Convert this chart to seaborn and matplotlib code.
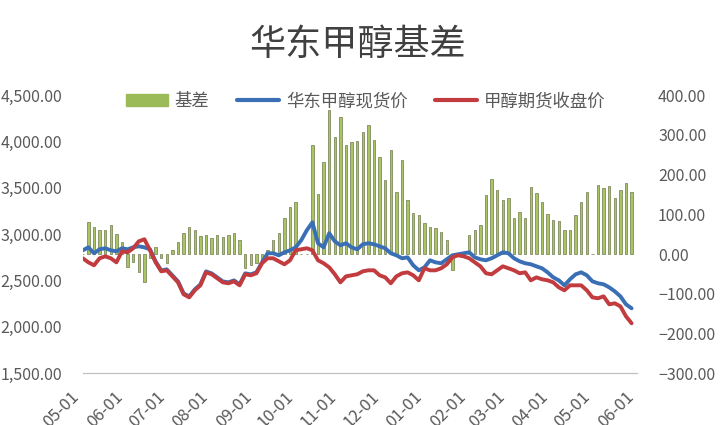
import matplotlib
matplotlib.use("Agg")
import pandas as pd
import matplotlib.pyplot as plt
import seaborn as sns
from matplotlib.patches import Patch
from matplotlib.lines import Line2D
from matplotlib.ticker import StrMethodFormatter

# readings every 4 days from 05-01
START = "2014-05-01"

futures = [
    2740, 2696, 2664, 2740, 2761, 2740, 2696, 2815, 2804, 2848,
    2923, 2945, 2826, 2696, 2599, 2610, 2545, 2480, 2351, 2318,
    2394, 2448, 2588, 2567, 2524, 2480, 2470, 2491, 2448, 2567,
    2556, 2578, 2686, 2740, 2740, 2707, 2675, 2718, 2826, 2837,
    2848, 2826, 2718, 2686, 2642, 2567, 2480, 2545, 2556, 2567,
    2599, 2610, 2610, 2556, 2534, 2470, 2545, 2578, 2588, 2556,
    2502, 2632, 2610, 2610, 2632, 2675, 2750, 2772, 2761, 2740,
    2696, 2653, 2578, 2567, 2610, 2653, 2632, 2610, 2578, 2588,
    2502, 2534, 2513, 2502, 2480, 2426, 2394, 2448, 2448, 2448,
    2394, 2318, 2308, 2329, 2243, 2254, 2221, 2113, 2038,
]

spot = [
    2826, 2858, 2794, 2837, 2848, 2826, 2815, 2848, 2837, 2858,
    2869, 2858, 2836, 2706, 2609, 2620, 2555, 2490, 2361, 2328,
    2404, 2458, 2598, 2577, 2534, 2490, 2480, 2501, 2458, 2577,
    2566, 2588, 2696, 2794, 2794, 2772, 2804, 2826, 2858, 2934,
    3042, 3128, 2902, 2858, 3010, 2923, 2880, 2902, 2858, 2837,
    2891, 2902, 2891, 2869, 2848, 2794, 2772, 2740, 2750, 2664,
    2610, 2642, 2718, 2696, 2686, 2729, 2772, 2783, 2794, 2804,
    2750, 2729, 2718, 2740, 2772, 2804, 2794, 2740, 2707, 2686,
    2675, 2653, 2632, 2588, 2534, 2502, 2448, 2513, 2567, 2588,
    2556, 2491, 2470, 2459, 2426, 2383, 2329, 2243, 2200,
]

basis = [
    0, 81, 68, 60, 60, 73, 50, 30, -33, -20,
    -45, -70, -10, 18, -10, -23, 10, 30, 53, 68,
    60, 45, 48, 40, 48, 43, 48, 53, 35, -35,
    -28, -22, -18, 10, 35, 53, 90, 118, 130, 0,
    0, 275, 150, 231, 362, 294, 345, 274, 282, 285,
    307, 324, 287, 244, 186, 261, 157, 236, 136, 103,
    98, 78, 68, 65, 55, 35, -40, 0, 0, 48,
    60, 73, 148, 189, 161, 136, 141, 90, 105, 90,
    169, 153, 131, 100, 85, 83, 60, 60, 98, 131,
    156, 0, 174, 166, 171, 140, 161, 179, 156,
]

LABELS = ["基差", "华东甲醇现货价", "甲醇期货收盘价"]
TITLE = "华东甲醇基差"

GREEN = "#9BBB59"
BLUE = "#3A6FB5"
RED = "#C23B3E"
GREY_TXT = "#595959"


def main():
    dates = pd.date_range(START, periods=len(futures), freq="4D")
    df = pd.DataFrame({"date": dates, "spot": spot, "futures": futures, "basis": basis})

    sns.set_style("white")
    plt.rcParams["font.family"] = ["Noto Sans CJK SC", "DejaVu Sans"]

    fig = plt.figure(figsize=(7.2, 4.25), dpi=100)
    ax = fig.add_axes([0.115, 0.122, 0.77, 0.654])

    # basis bars on the right-hand scale
    ax.bar(df["date"], df["basis"], width=1.6, color="#A9C463",
           edgecolor="#6f7a4e", linewidth=0.5)
    ax.set_ylim(-300, 400)
    ax.set_yticks(range(-300, 401, 100))
    ax.yaxis.set_major_formatter(StrMethodFormatter("{x:,.2f}"))

    # price lines on the left-hand scale
    ax2 = ax.twinx()
    sns.lineplot(data=df, x="date", y="spot", ax=ax2, color=BLUE, linewidth=2.8)
    sns.lineplot(data=df, x="date", y="futures", ax=ax2, color=RED, linewidth=2.8)
    ax2.set_ylim(1500, 4500)
    ax2.set_yticks(range(1500, 4501, 500))
    ax2.yaxis.set_major_formatter(StrMethodFormatter("{x:,.2f}"))
    ax2.set_ylabel("")
    ax2.set_xlabel("")

    # swap sides: prices left, basis right
    ax.yaxis.tick_right()
    ax.yaxis.set_label_position("right")
    ax2.yaxis.tick_left()
    ax2.yaxis.set_label_position("left")

    months = pd.date_range("2014-05-01", "2015-06-01", freq="MS")
    ax.set_xlim(months[0], months[-1])
    ax.set_xticks(months)
    ax.set_xticklabels([m.strftime("%m-%d") for m in months], rotation=45, ha="right")
    ax.set_xlabel("")
    ax.set_ylabel("")

    for a in (ax, ax2):
        for side in ("top", "left", "right"):
            a.spines[side].set_visible(False)
        a.spines["bottom"].set_color("#bfbfbf")
        a.tick_params(axis="y", length=0, labelsize=11.5, labelcolor=GREY_TXT, pad=15)
    ax.tick_params(axis="x", length=5, color="#bfbfbf", labelsize=12,
                   labelcolor=GREY_TXT, pad=6)

    handles = [
        Patch(facecolor=GREEN, edgecolor=GREEN),
        Line2D([0], [0], color=BLUE, linewidth=3),
        Line2D([0], [0], color=RED, linewidth=3),
    ]
    fig.legend(handles, LABELS, loc="center", bbox_to_anchor=(0.508, 0.762),
               ncol=3, frameon=False, fontsize=12.5, handlelength=2.4,
               columnspacing=1.6, handletextpad=0.4, labelcolor=GREY_TXT)

    fig.text(0.497, 0.894, TITLE, ha="center", va="center", fontsize=26, color="#404040")

    fig.savefig("out.png", dpi=100)
    plt.close(fig)


if __name__ == "__main__":
    main()
